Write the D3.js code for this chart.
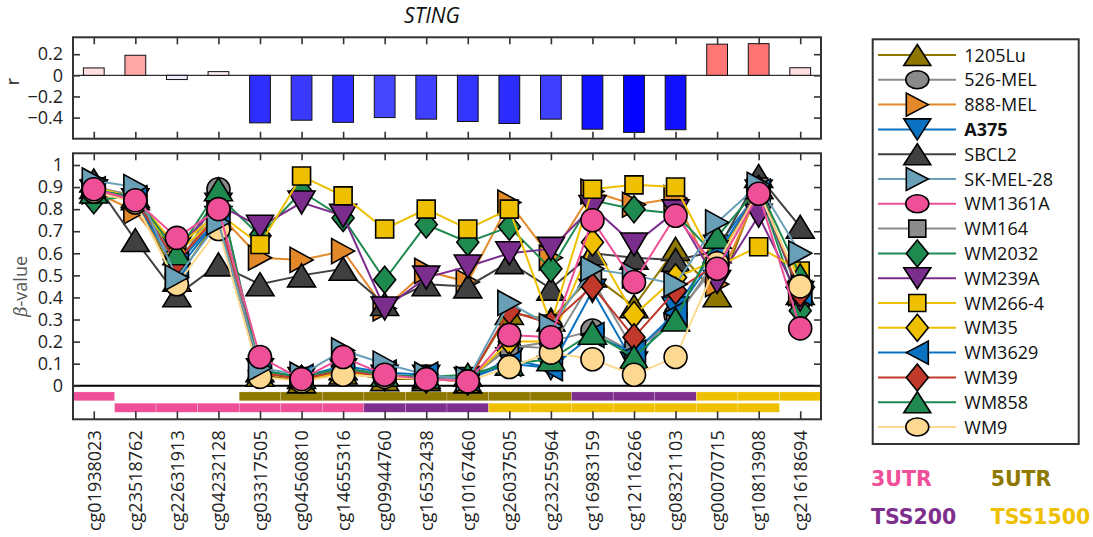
<!DOCTYPE html>
<html>
<head>
<meta charset="utf-8">
<script src="https://cdn.jsdelivr.net/npm/d3@7"></script>
<style>
body { margin: 0; background: #fff; }
svg { font-family: "Open Sans", sans-serif; }
</style>
</head>
<body>
<svg id="chart" width="1093" height="537"></svg>
<script>
// CpG probes along the x axis
const cpgs = ["cg01938023", "cg23518762", "cg22631913", "cg04232128", "cg03317505", "cg04560810",
  "cg14655316", "cg09944760", "cg16532438", "cg10167460", "cg26037505", "cg23255964",
  "cg16983159", "cg12116266", "cg08321103", "cg00070715", "cg10813908", "cg21618694"];

// correlation r per probe (top panel)
const rValues = [0.07, 0.19, -0.04, 0.035, -0.45, -0.425, -0.445, -0.40, -0.415, -0.437,
  -0.456, -0.415, -0.51, -0.54, -0.515, 0.295, 0.30, 0.072];
const rTicks = [-0.4, -0.2, 0, 0.2];

const cellLines = ["1205Lu", "526-MEL", "888-MEL", "A375", "SBCL2", "SK-MEL-28", "WM1361A", "WM164",
  "WM2032", "WM239A", "WM266-4", "WM35", "WM3629", "WM39", "WM858", "WM9"];

// beta values, one row per cell line (same order as cellLines)
const betaRows = [
  [0.90, 0.85, 0.48, 0.76, 0.05, 0.02, 0.06, 0.03, 0.03, 0.02, 0.33, 0.30, 0.50, 0.36, 0.62, 0.41, 0.90, 0.42],
  [0.90, 0.86, 0.50, 0.89, 0.06, 0.03, 0.08, 0.05, 0.04, 0.03, 0.17, 0.20, 0.25, 0.15, 0.32, 0.55, 0.90, 0.40],
  [0.88, 0.79, 0.55, 0.78, 0.58, 0.57, 0.61, 0.35, 0.52, 0.47, 0.83, 0.58, 0.88, 0.82, 0.85, 0.46, 0.88, 0.42],
  [0.88, 0.84, 0.52, 0.76, 0.07, 0.03, 0.07, 0.04, 0.04, 0.03, 0.12, 0.08, 0.43, 0.10, 0.35, 0.63, 0.88, 0.42],
  [0.93, 0.66, 0.41, 0.55, 0.46, 0.50, 0.53, 0.37, 0.46, 0.45, 0.56, 0.44, 0.60, 0.58, 0.57, 0.61, 0.95, 0.72],
  [0.93, 0.90, 0.49, 0.74, 0.08, 0.05, 0.16, 0.10, 0.05, 0.03, 0.375, 0.27, 0.53, 0.50, 0.46, 0.74, 0.91, 0.60],
  [0.89, 0.84, 0.67, 0.80, 0.13, 0.03, 0.13, 0.05, 0.03, 0.02, 0.23, 0.22, 0.75, 0.47, 0.77, 0.53, 0.87, 0.26],
  [0.90, 0.86, 0.55, 0.82, 0.06, 0.04, 0.08, 0.05, 0.04, 0.03, 0.18, 0.17, 0.48, 0.16, 0.30, 0.58, 0.90, 0.40],
  [0.84, 0.86, 0.58, 0.86, 0.68, 0.88, 0.76, 0.48, 0.73, 0.65, 0.72, 0.53, 0.84, 0.80, 0.78, 0.58, 0.89, 0.34],
  [0.88, 0.84, 0.62, 0.82, 0.72, 0.83, 0.77, 0.35, 0.49, 0.54, 0.60, 0.62, 0.81, 0.64, 0.79, 0.47, 0.77, 0.39],
  [0.90, 0.85, 0.63, 0.78, 0.64, 0.95, 0.86, 0.71, 0.80, 0.71, 0.80, 0.28, 0.89, 0.91, 0.90, 0.54, 0.63, 0.52],
  [0.89, 0.84, 0.60, 0.77, 0.06, 0.03, 0.06, 0.04, 0.03, 0.02, 0.20, 0.20, 0.65, 0.32, 0.49, 0.57, 0.88, 0.45],
  [0.89, 0.85, 0.55, 0.76, 0.07, 0.04, 0.09, 0.06, 0.05, 0.03, 0.10, 0.08, 0.23, 0.15, 0.33, 0.60, 0.88, 0.42],
  [0.89, 0.84, 0.56, 0.78, 0.06, 0.03, 0.07, 0.04, 0.03, 0.02, 0.34, 0.28, 0.45, 0.22, 0.43, 0.55, 0.89, 0.42],
  [0.88, 0.86, 0.60, 0.89, 0.07, 0.04, 0.08, 0.05, 0.04, 0.05, 0.10, 0.12, 0.24, 0.13, 0.30, 0.675, 0.90, 0.50],
  [0.88, 0.83, 0.46, 0.71, 0.04, 0.02, 0.05, 0.04, 0.03, 0.02, 0.085, 0.15, 0.12, 0.05, 0.13, 0.555, 0.88, 0.45]
];
const betaTicks = [0, 0.1, 0.2, 0.3, 0.4, 0.5, 0.6, 0.7, 0.8, 0.9, 1];

// gene region annotations, two rows under the zero line ("" = none)
const annRow1 = ["3UTR", "", "", "", "5UTR", "5UTR", "5UTR", "5UTR", "5UTR", "5UTR", "5UTR", "5UTR",
  "TSS200", "TSS200", "TSS200", "TSS1500", "TSS1500", "TSS1500"];
const annRow2 = ["", "3UTR", "3UTR", "3UTR", "3UTR", "3UTR", "3UTR", "TSS200", "TSS200", "TSS200",
  "TSS1500", "TSS1500", "TSS1500", "TSS1500", "TSS1500", "TSS1500", "TSS1500", ""];
const regions = ["3UTR", "5UTR", "TSS200", "TSS1500"];

// styling
const lineColors = ["#8e7700", "#8a8a8a", "#e3892a", "#0a72c0", "#404040", "#6a9fb8", "#ee4f96", "#8c8c8c",
  "#1f8a50", "#7b2d8e", "#efc000", "#efc000", "#0a72c0", "#c0392b", "#1f8a50", "#fdd890"];
const markerShapes = ["tu", "circle", "tr", "td", "tu", "tr", "circle", "square",
  "diamond", "td", "square", "diamond", "tl", "diamond", "tu", "circle"];
const regionColors = { "3UTR": "#ef4f98", "5UTR": "#8f7800", "TSS200": "#7e2f8e", "TSS1500": "#efc000" };

const svg = d3.select("#chart");
const L = 73, R = 821;
const axisColor = "#333";

const x = d3.scalePoint().domain(cpgs).range([L, R]).padding(0.5);
const xb = d3.scaleBand().domain(cpgs).range([L, R]).paddingInner(0.5).paddingOuter(0.25);
const yTop = d3.scaleLinear().domain([-0.6, 0.36]).range([138.7, 37.3]);
const y = d3.scaleLinear().domain([-0.152, 1.053]).range([419.3, 153.3]);

const rColor = d3.scaleLinear().domain([-0.55, 0, 0.55]).range(["#0000ff", "#ffffff", "#ff0000"]).clamp(true);

function markerPath(shape, w, h) {
  const a = w / 2, b = h / 2;
  switch (shape) {
    case "tu": return `M0,${-b}L${a},${b}L${-a},${b}Z`;
    case "td": return `M0,${b}L${a},${-b}L${-a},${-b}Z`;
    case "tr": return `M${a},0L${-a},${-b}L${-a},${b}Z`;
    case "tl": return `M${-a},0L${a},${-b}L${a},${b}Z`;
    case "square": return `M${-a},${-b}H${a}V${b}H${-a}Z`;
    case "diamond": return `M0,${-b}L${a},0L0,${b}L${-a},0Z`;
    default: return `M${a},0A${a},${b} 0 1,1 ${-a},0A${a},${b} 0 1,1 ${a},0Z`;
  }
}
const plotSize = { tu: [28, 23], td: [27, 23], tr: [23, 25], tl: [23, 25], square: [18, 18], diamond: [22, 27], circle: [23, 23] };
const legSize = { tu: [27, 21], td: [27, 21], tr: [22, 23], tl: [22, 23], square: [17, 17], diamond: [22, 27], circle: [23, 18] };

// ---- title
svg.append("text").attr("x", 432).attr("y", 23).attr("text-anchor", "middle")
  .attr("font-size", 21).attr("font-style", "italic").attr("fill", "#111").text("STING");

// ---- top panel: correlation bars
const topPanel = svg.append("g");
topPanel.append("line").attr("x1", L).attr("x2", R).attr("y1", yTop(0)).attr("y2", yTop(0))
  .attr("stroke", "#000").attr("stroke-width", 1);
topPanel.selectAll("rect.bar").data(rValues).enter().append("rect")
  .attr("class", "bar")
  .attr("x", (d, i) => xb(cpgs[i]))
  .attr("width", xb.bandwidth())
  .attr("y", d => yTop(Math.max(0, d)))
  .attr("height", d => Math.abs(yTop(d) - yTop(0)))
  .attr("fill", d => rColor(d))
  .attr("stroke", "#111").attr("stroke-width", 1);

function styleAxis(g, fs) {
  g.select(".domain").remove();
  g.selectAll(".tick line").attr("stroke", axisColor).attr("stroke-width", 1.6);
  g.selectAll(".tick text").attr("fill", "#222").attr("font-size", fs).attr("font-family", "Open Sans, sans-serif");
}

topPanel.append("g").attr("transform", `translate(${L},0)`)
  .call(d3.axisLeft(yTop).tickValues(rTicks).tickSize(-7).tickPadding(10).tickFormat(d3.format("~g")))
  .call(g => styleAxis(g, 18));
topPanel.append("g").attr("transform", `translate(${R},0)`)
  .call(d3.axisRight(yTop).tickValues(rTicks).tickSize(-7).tickFormat(""))
  .call(g => styleAxis(g, 18));
topPanel.append("g").attr("transform", `translate(0,${yTop.range()[1]})`)
  .call(d3.axisTop(x).tickSize(-7).tickFormat(""))
  .call(g => styleAxis(g, 18));
topPanel.append("g").attr("transform", `translate(0,${yTop.range()[0]})`)
  .call(d3.axisBottom(x).tickSize(-7).tickFormat(""))
  .call(g => styleAxis(g, 18));
topPanel.append("rect").attr("x", L).attr("y", yTop.range()[1]).attr("width", R - L)
  .attr("height", yTop.range()[0] - yTop.range()[1])
  .attr("fill", "none").attr("stroke", axisColor).attr("stroke-width", 2);
svg.append("text").attr("transform", `translate(19,${yTop(-0.06)}) rotate(-90)`)
  .attr("text-anchor", "middle").attr("font-size", 18).attr("fill", "#222").text("r");

// ---- main panel: beta values
const mainPanel = svg.append("g");

// annotation strips
[annRow1, annRow2].forEach((row, ri) => {
  const y0 = ri === 0 ? -0.028 : -0.079, y1 = ri === 0 ? -0.068 : -0.12;
  mainPanel.selectAll(null).data(row.map((r, i) => ({ r, c: cpgs[i] })).filter(d => d.r)).enter().append("rect")
    .attr("x", d => x(d.c) - x.step() / 2)
    .attr("width", x.step())
    .attr("y", y(y0)).attr("height", y(y1) - y(y0))
    .attr("fill", d => regionColors[d.r])
    .attr("stroke", "#ffffff").attr("stroke-opacity", 0.35).attr("stroke-width", 0.6);
});
mainPanel.append("line").attr("x1", L).attr("x2", R).attr("y1", y(0)).attr("y2", y(0))
  .attr("stroke", "#000").attr("stroke-width", 2);

const line = d3.line().x((d, i) => x(cpgs[i])).y(d => y(d));
const order = d3.range(cellLines.length).filter(i => i !== 5 && i !== 6).concat([5, 6]);
order.forEach(i => {
  const g = mainPanel.append("g");
  g.append("path").datum(betaRows[i]).attr("d", line)
    .attr("fill", "none").attr("stroke", lineColors[i]).attr("stroke-width", 2);
  const sh = markerShapes[i], sz = plotSize[sh];
  g.selectAll("path.m").data(betaRows[i]).enter().append("path")
    .attr("class", "m")
    .attr("transform", (d, j) => `translate(${x(cpgs[j])},${y(d)})`)
    .attr("d", markerPath(sh, sz[0], sz[1]))
    .attr("fill", lineColors[i]).attr("stroke", "#000").attr("stroke-width", 1.6);
});

mainPanel.append("g").attr("transform", `translate(${L},0)`)
  .call(d3.axisLeft(y).tickValues(betaTicks).tickSize(-7).tickPadding(10).tickFormat(d3.format("~g")))
  .call(g => styleAxis(g, 18));
mainPanel.append("g").attr("transform", `translate(${R},0)`)
  .call(d3.axisRight(y).tickValues(betaTicks).tickSize(-7).tickFormat(""))
  .call(g => styleAxis(g, 18));
mainPanel.append("g").attr("transform", `translate(0,${y.range()[1]})`)
  .call(d3.axisTop(x).tickSize(-7).tickFormat(""))
  .call(g => styleAxis(g, 18));
const xAxis = mainPanel.append("g").attr("transform", `translate(0,${y.range()[0]})`)
  .call(d3.axisBottom(x).tickSize(-8).tickPadding(0))
  .call(g => styleAxis(g, 18));
xAxis.selectAll(".tick text")
  .attr("transform", "rotate(-90)")
  .attr("text-anchor", "end")
  .attr("x", -11).attr("y", 0).attr("dy", "0.35em");
mainPanel.append("rect").attr("x", L).attr("y", y.range()[1]).attr("width", R - L)
  .attr("height", y.range()[0] - y.range()[1])
  .attr("fill", "none").attr("stroke", axisColor).attr("stroke-width", 2);

const yl = svg.append("text").attr("transform", `translate(27,${y(0.45)}) rotate(-90)`)
  .attr("text-anchor", "middle").attr("font-size", 18).attr("fill", "#555");
yl.append("tspan").attr("font-style", "italic").attr("font-family", "DejaVu Serif, serif").text("β");
yl.append("tspan").text("-value");

// ---- legend
const leg = svg.append("g");
const legTop = 55, legStep = 24.8;
leg.append("rect").attr("x", 872.7).attr("y", 39.3).attr("width", 206).attr("height", 404.7)
  .attr("fill", "#fff").attr("stroke", axisColor).attr("stroke-width", 2);
cellLines.forEach((name, i) => {
  const cy = legTop + i * legStep;
  leg.append("line").attr("x1", 878).attr("x2", 956).attr("y1", cy).attr("y2", cy)
    .attr("stroke", lineColors[i]).attr("stroke-width", 2);
  const sh = markerShapes[i], sz = legSize[sh];
  leg.append("path").attr("transform", `translate(917.3,${cy})`)
    .attr("d", markerPath(sh, sz[0], sz[1]))
    .attr("fill", lineColors[i]).attr("stroke", "#000").attr("stroke-width", 1.6);
  leg.append("text").attr("x", 964.3).attr("y", cy + 6.5)
    .attr("font-size", 18).attr("fill", "#111")
    .attr("font-weight", name === "A375" ? "bold" : "normal")
    .text(name);
});

// region colour key
const keyPos = [[871, 486], [990.7, 486], [871, 524], [990.7, 524]];
regions.forEach((r, i) => {
  svg.append("text").attr("x", keyPos[i][0]).attr("y", keyPos[i][1])
    .attr("font-family", "DejaVu Sans, sans-serif").attr("font-weight", "bold")
    .attr("font-size", 20.5).attr("fill", regionColors[r]).text(r);
});
</script>
</body>
</html>
